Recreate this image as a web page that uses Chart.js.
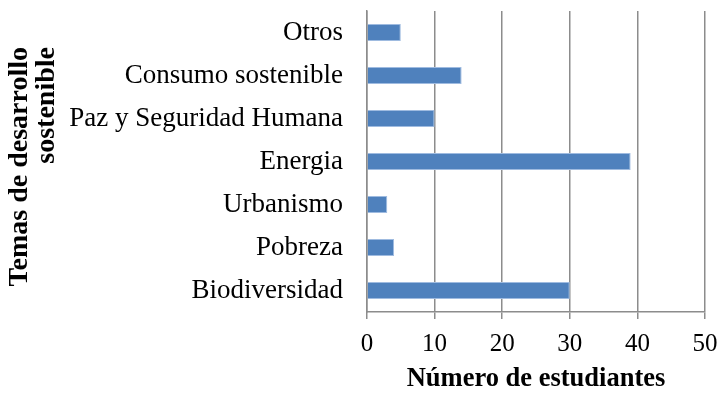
<!DOCTYPE html>
<html>
<head>
<meta charset="utf-8">
<script src="https://cdn.jsdelivr.net/npm/chart.js@4"></script>
<style>
  html, body { margin: 0; padding: 0; background: #fff; }
  #wrap { width: 722px; height: 393px; }
</style>
</head>
<body>
<div id="wrap"><canvas id="chart" width="722" height="393"></canvas></div>
<script>
const temas = ['Otros', 'Consumo sostenible', 'Paz y Seguridad Humana', 'Energia', 'Urbanismo', 'Pobreza', 'Biodiversidad'];
const estudiantes = [5, 14, 10, 39, 3, 4, 30];
const y_title = ['Temas de desarrollo', 'sostenible'];
const x_title = 'Número de estudiantes';

const serif = "'Liberation Serif', 'Times New Roman', serif";
const grid_gray = '#8c8c8c';

// rotated two-line title on the left, lines end-aligned at the top
const y_title_plugin = {
  id: 'y_title',
  afterDraw(chart) {
    let ctx = chart.ctx;
    ctx.save();
    ctx.font = 'bold 28px ' + serif;
    ctx.fillStyle = '#000';
    ctx.textAlign = 'right';
    ctx.textBaseline = 'middle';
    ctx.translate(20, 47);
    ctx.rotate(-Math.PI / 2);
    y_title.forEach((line, i) => { ctx.fillText(line, 0, i * 26.5); });
    ctx.restore();
  }
};

new Chart(document.getElementById('chart'), {
  type: 'bar',
  data: {
    labels: temas,
    datasets: [{
      data: estudiantes,
      backgroundColor: '#4f81bd',
      borderColor: '#9fbbe0',
      borderWidth: 1,
      barPercentage: 0.4,
      categoryPercentage: 1
    }]
  },
  options: {
    indexAxis: 'y',
    responsive: false,
    animation: false,
    layout: { padding: { top: 11, right: 17, bottom: 0, left: 0 } },
    plugins: { legend: { display: false }, tooltip: { enabled: false } },
    scales: {
      x: {
        min: 0, max: 50,
        ticks: { stepSize: 10, color: '#000', padding: 10, font: { family: serif, size: 25 } },
        grid: { color: grid_gray, lineWidth: 1.5, tickLength: 7, tickColor: grid_gray },
        border: { display: true, color: grid_gray, width: 1.5 },
        title: { display: true, text: x_title, color: '#000', padding: { top: 0, bottom: 1 },
                 font: { family: serif, size: 26.5, weight: 'bold', lineHeight: 1 } },
        afterFit: s => { s.height = 81; s.paddingLeft = 0; s.paddingRight = 0; }
      },
      y: {
        ticks: { color: '#000', padding: 24, font: { family: serif, size: 27 } },
        grid: { display: false, drawTicks: false },
        border: { display: true, color: grid_gray, width: 1.5 },
        afterFit: s => { s.width = 367; s.paddingTop = 0; s.paddingBottom = 0; }
      }
    }
  },
  plugins: [y_title_plugin]
});
</script>
</body>
</html>
